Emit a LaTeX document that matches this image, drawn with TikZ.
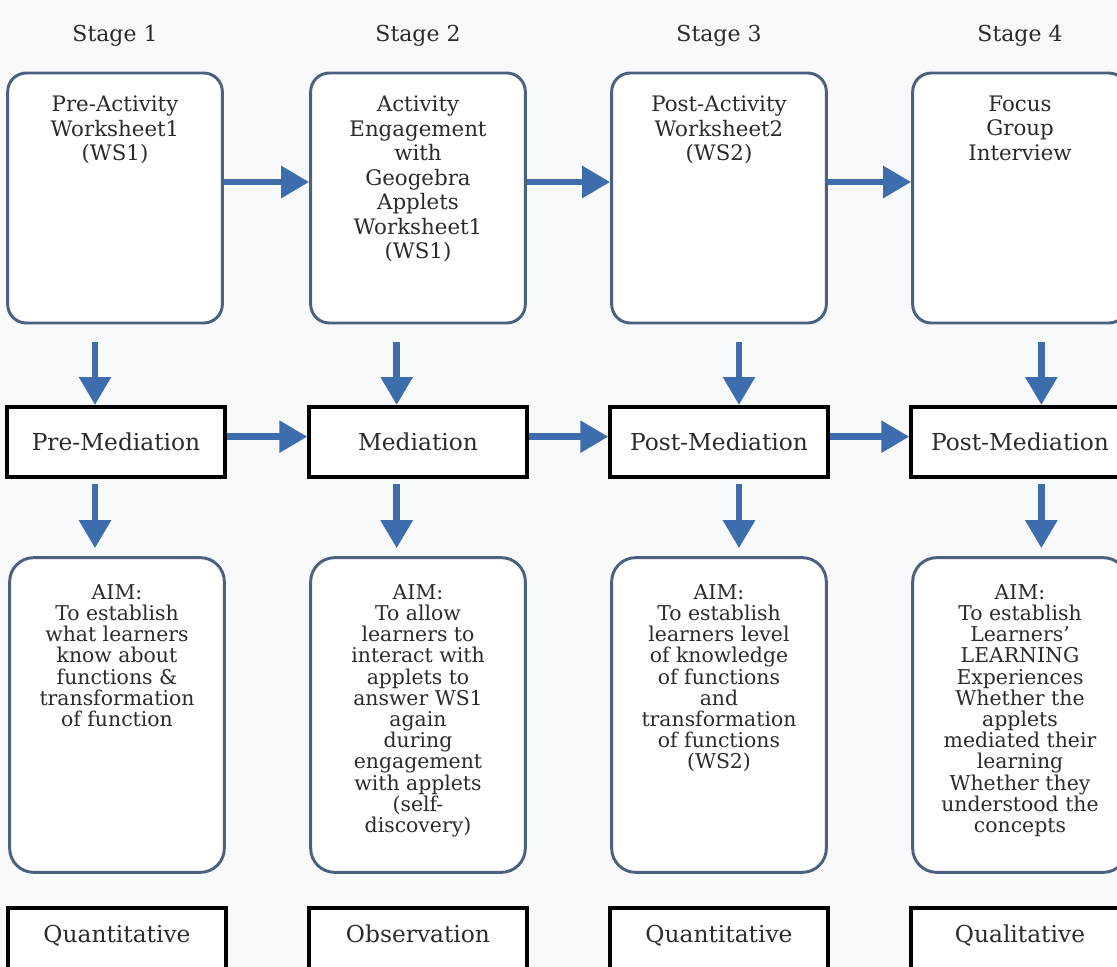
\documentclass[tikz,border=0pt]{standalone}
\usepackage{fontspec}
\setmainfont{DejaVu Serif}
\usetikzlibrary{arrows.meta,positioning}

\definecolor{flowblue}{HTML}{3D6DAC}
\definecolor{boxedge}{HTML}{4B5F7E}
\definecolor{inkgray}{HTML}{2B2B2B}
\definecolor{paper}{HTML}{F8F9FB}

\begin{document}
\begin{tikzpicture}[x=0.75pt, y=-0.75pt,
    stage/.style={text=inkgray, font=\fontsize{16.5}{18.4}\selectfont},
    topbox/.style={draw=boxedge, line width=2.2pt, rounded corners=14pt, fill=white, minimum width=161pt, minimum height=187.5pt},
    aimbox/.style={topbox, rounded corners=18pt, minimum height=236pt},
    toptext/.style={align=center, inner sep=0pt, text=inkgray, font=\fontsize{16}{18.4}\selectfont},
    aimtext/.style={align=center, inner sep=0pt, text=inkgray, font=\fontsize{15.3}{15.9}\selectfont},
    medbox/.style={draw=black, line width=3pt, fill=white, minimum width=163pt, minimum height=52.5pt, text=inkgray, font=\fontsize{17.5}{19}\selectfont},
    resbox/.style={draw=black, line width=3pt, fill=white, minimum width=163pt, minimum height=75pt},
    restext/.style={inner sep=0pt, text=inkgray, font=\fontsize{17.5}{19}\selectfont},
    flow/.style={draw=flowblue, line width=5pt, -{Triangle[length=21pt, width=23pt]}}]

  \fill[paper] (0,0) rectangle (1117,967);
  \useasboundingbox (0,0) rectangle (1117,967);

  % stage headings
  \node[stage] (s1) at (115,36) {Stage 1};
  \node[stage] (s2) at (418,36) {Stage 2};
  \node[stage] (s3) at (719,36) {Stage 3};
  \node[stage] (s4) at (1020,36) {Stage 4};

  % activities
  \node[topbox] (a1) at (115,198) {};
  \node[topbox] (a2) at (418,198) {};
  \node[topbox] (a3) at (719,198) {};
  \node[topbox] (a4) at (1020,198) {};
  \node[toptext, below=18pt of a1.north] (a1t) {Pre-Activity\\Worksheet1\\(WS1)};
  \node[toptext, below=18pt of a2.north] (a2t) {Activity\\Engagement\\with\\Geogebra\\Applets\\Worksheet1\\(WS1)};
  \node[toptext, below=18pt of a3.north] (a3t) {Post-Activity\\Worksheet2\\(WS2)};
  \node[toptext, below=18pt of a4.north] (a4t) {Focus\\Group\\Interview};

  % mediation
  \node[medbox] (m1) at (116,442) {Pre-Mediation};
  \node[medbox] (m2) at (418,442) {Mediation};
  \node[medbox] (m3) at (719,442) {Post-Mediation};
  \node[medbox] (m4) at (1020,442) {Post-Mediation};

  % aims
  \node[aimbox] (b1) at (117,715) {};
  \node[aimbox] (b2) at (418,715) {};
  \node[aimbox] (b3) at (719,715) {};
  \node[aimbox] (b4) at (1020,715) {};
  \node[aimtext, below=21pt of b1.north] (b1t) {AIM:\\To establish\\what learners\\know about\\functions \&\\transformation\\of function};
  \node[aimtext, below=21pt of b2.north] (b2t) {AIM:\\To allow\\learners to\\interact with\\applets to\\answer WS1\\again\\during\\engagement\\with applets\\(self-\\discovery)};
  \node[aimtext, below=21pt of b3.north] (b3t) {AIM:\\To establish\\learners level\\of knowledge\\of functions\\and\\transformation\\of functions\\(WS2)};
  \node[aimtext, below=21pt of b4.north] (b4t) {AIM:\\To establish\\Learners’\\LEARNING\\Experiences\\Whether the\\applets\\mediated their\\learning\\Whether they\\understood the\\concepts};

  % methods
  \node[resbox] (q1) at (117,958) {};
  \node[resbox] (q2) at (418,958) {};
  \node[resbox] (q3) at (719,958) {};
  \node[resbox] (q4) at (1020,958) {};
  \node[restext, below=14pt of q1.north] (q1t) {Quantitative};
  \node[restext, below=14pt of q2.north] (q2t) {Observation};
  \node[restext, below=14pt of q3.north] (q3t) {Quantitative};
  \node[restext, below=14pt of q4.north] (q4t) {Qualitative};

  % arrows across
  \draw[flow] ([yshift=12pt]a1.east) -- ([yshift=12pt]a2.west);
  \draw[flow] ([yshift=12pt]a2.east) -- ([yshift=12pt]a3.west);
  \draw[flow] ([yshift=12pt]a3.east) -- ([yshift=12pt]a4.west);
  \draw[flow] ([yshift=4pt]m1.east) -- ([yshift=4pt]m2.west);
  \draw[flow] ([yshift=4pt]m2.east) -- ([yshift=4pt]m3.west);
  \draw[flow] ([yshift=4pt]m3.east) -- ([yshift=4pt]m4.west);

  % arrows down
  \draw[flow] ([xshift=-15pt, yshift=-13pt]a1.south) -- ([xshift=-15pt]a1.south |- m1.north);
  \draw[flow] ([xshift=-16pt, yshift=-13pt]a2.south) -- ([xshift=-16pt]a2.south |- m2.north);
  \draw[flow] ([xshift=15pt, yshift=-13pt]a3.south) -- ([xshift=15pt]a3.south |- m3.north);
  \draw[flow] ([xshift=16pt, yshift=-13pt]a4.south) -- ([xshift=16pt]a4.south |- m4.north);
  \draw[flow, shorten >=6pt] ([xshift=-15pt, yshift=-4pt]a1.south |- m1.south) -- ([xshift=-15pt]a1.south |- b1.north);
  \draw[flow, shorten >=6pt] ([xshift=-16pt, yshift=-4pt]a2.south |- m2.south) -- ([xshift=-16pt]a2.south |- b2.north);
  \draw[flow, shorten >=6pt] ([xshift=15pt, yshift=-4pt]a3.south |- m3.south) -- ([xshift=15pt]a3.south |- b3.north);
  \draw[flow, shorten >=6pt] ([xshift=16pt, yshift=-4pt]a4.south |- m4.south) -- ([xshift=16pt]a4.south |- b4.north);
\end{tikzpicture}
\end{document}
